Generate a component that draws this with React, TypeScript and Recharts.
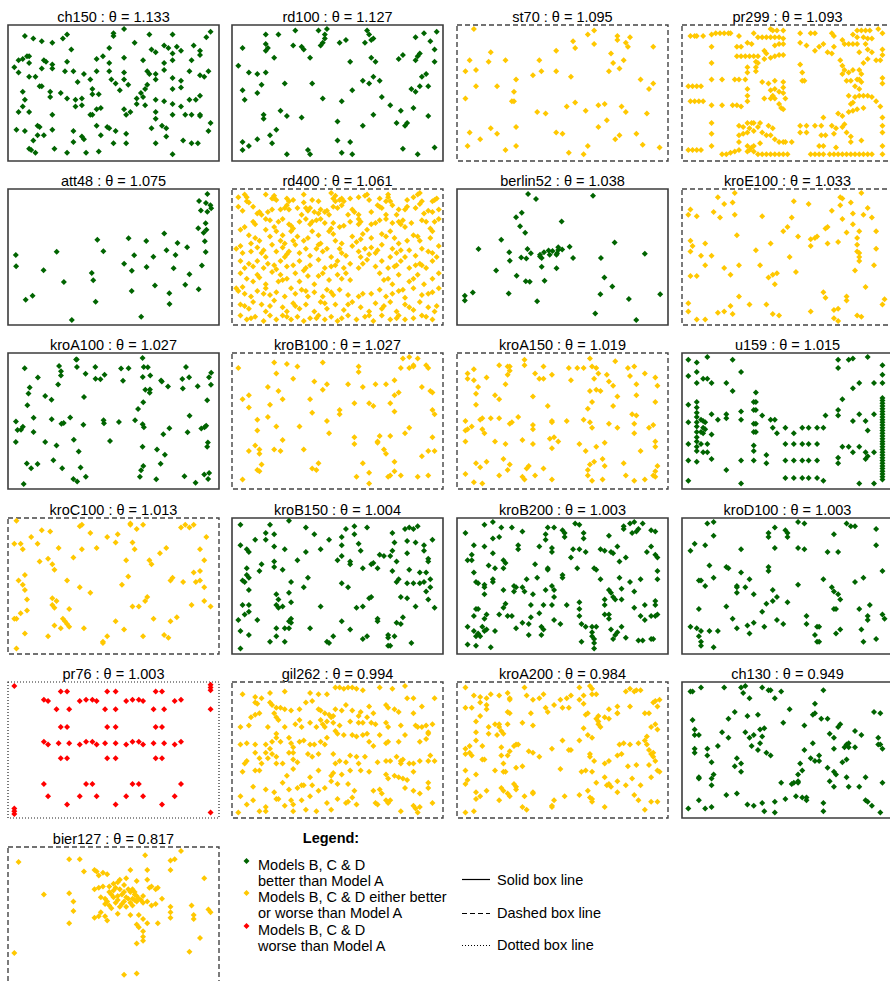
import React from "react";
import { ScatterChart, Scatter, XAxis, YAxis, ReferenceArea } from "recharts";

// Instances in plotting order, with their theta ratio and the outcome class
const instances = [
  "ch150", "rd100", "st70", "pr299", "att48", "rd400", "berlin52", "kroE100",
  "kroA100", "kroB100", "kroA150", "u159", "kroC100", "kroB150", "kroB200", "kroD100",
  "pr76", "gil262", "kroA200", "ch130", "bier127",
];
const thetas = [
  1.133, 1.127, 1.095, 1.093, 1.075, 1.061, 1.038, 1.033,
  1.027, 1.027, 1.019, 1.015, 1.013, 1.004, 1.003, 1.003,
  1.003, 0.994, 0.984, 0.949, 0.817,
];
// B = models B, C & D better, M = mixed, W = worse than model A
const outcomes = [
  "B", "B", "M", "M", "B", "M", "B", "M",
  "B", "M", "M", "B", "M", "B", "B", "B",
  "W", "M", "M", "B", "M",
];

// these three keep their TSPLIB coordinates (y up); the rest are in 0-100 box units, y down
const tsplibCoords = ["att48", "berlin52", "kroA100"];

const att48 = `6734 1453,2233 10,5530 1424,401 841,3082 1644,7608 4458,7573 3716,7265 1268,6898 1885,1112 2049,
5468 2606,5989 2873,4706 2674,4612 2035,6347 2683,6107 669,7611 5184,7462 3590,7732 4723,5900 3561,
4483 3369,6101 1110,5199 2182,1633 2809,4307 2322,675 1006,7555 4819,7541 3981,3177 756,7352 4506,
7545 2801,3245 3305,6426 3173,4608 1198,23 2216,7248 3779,7762 4595,7392 2244,3484 2829,6271 2135,
4985 140,1916 1569,7280 4899,7509 3239,10 2676,6807 2993,5185 3258,3023 1942`;

const berlin52 = `565 575,25 185,345 750,945 685,845 655,880 660,25 230,525 1000,580 1175,650 1130,
1605 620,1220 580,1465 200,1530 5,845 680,725 370,145 665,415 635,510 875,560 365,
300 465,520 585,480 415,835 625,975 580,1215 245,1320 315,1250 400,660 180,410 250,
420 555,575 665,1150 1160,700 580,685 595,685 610,770 610,795 645,720 635,760 650,
475 960,95 260,875 920,700 500,555 815,830 485,1170 65,830 610,605 625,595 360,1340 725,1740 245`;

const kroA100 = `1380 939,2848 96,3510 1671,457 334,3888 666,984 965,2721 1482,1286 525,2716 1432,738 1325,
1251 1832,2728 1698,3815 169,3683 1533,1247 1945,123 862,1234 1946,252 1240,611 673,2576 1676,
928 1700,53 857,1807 1711,274 1420,2574 946,178 24,2678 1825,1795 962,3384 1498,3520 1079,
1256 61,1424 1728,3913 192,3085 1528,2573 1969,463 1670,3875 598,298 1513,3479 821,2542 236,
3955 1743,1323 280,3447 1830,2936 337,1621 1830,3373 1646,1393 1368,3874 1318,938 955,3022 474,
2482 1183,3854 923,376 825,2519 135,2945 1622,953 268,2628 1479,2097 981,890 1846,2139 1806,
2421 1007,2290 1810,1115 1052,2588 302,327 265,241 341,1917 687,2991 792,2573 599,19 674,
3911 1673,872 1559,2863 558,929 1766,839 620,3893 102,2178 1619,3822 899,378 1048,1178 100,
2599 901,3416 143,2961 1605,611 1384,3113 885,2597 1830,2586 1286,161 906,1429 134,742 1025,
1625 1651,1187 706,1787 1009,22 987,3640 43,3756 882,776 392,1724 1642,198 1810,3950 1558`;

const ch150 = `8 8,12 10,16 12,21 13,26 10,28 7,30 18,50 6,50 8,55 3,60 13,67 7,68 18,70 20,74 15,78 7,76 17,78 21,80 16,82 19,88 15,91 19,91 22,94 9,96 5,
5 26,7 25,9 23,10 23,10 28,3 31,5 35,10 38,13 38,17 26,18 27,21 29,21 32,16 32,28 27,27 34,31 34,36 36,33 42,42 25,45 23,48 17,48 28,48 34,55 24,55 35,55 40,49 40,51 43,39 40,42 34,64 26,66 34,67 36,74 28,74 33,78 26,87 26,86 34,78 39,82 41,95 34,91 37,93 38,70 36,70 40,66 44,65 47,
15 45,16 45,7 49,20 49,20 53,25 50,28 54,32 55,35 54,32 60,35 59,40 47,40 51,43 51,53 48,57 44,63 50,61 54,64 53,65 59,70 55,78 47,82 46,78 58,82 60,74 56,86 55,89 55,91 52,8 55,7 60,5 64,10 64,21 66,39 66,40 66,42 62,44 61,55 62,56 66,58 64,61 58,70 64,70 69,78 66,84 66,87 66,91 66,91 67,96 72,95 78,
4 77,8 78,14 74,15 75,14 81,17 81,21 77,12 85,10 91,11 92,13 94,22 91,31 78,35 82,36 84,31 86,28 94,37 94,43 93,42 74,44 81,47 75,48 76,51 78,50 87,56 80,56 87,68 76,73 74,75 76,75 82,70 87,78 95,83 85,87 87,90 87`;

const rd100 = `16 7,22 7,30 4,41 4,45 3,44 7,44 10,43 13,42 15,64 4,65 7,67 10,66 11,51 13,54 11,63 13,87 9,91 6,97 5,94 12,
5 17,16 14,17 17,16 19,29 15,33 16,34 18,37 24,20 24,96 18,56 27,66 24,68 27,79 25,81 22,87 26,88 23,89 21,96 27,3 30,
8 35,12 36,16 35,25 43,38 43,14 44,5 48,12 50,6 55,62 41,65 43,67 38,70 41,90 38,92 36,85 47,87 49,89 45,93 45,57 48,
43 54,52 56,71 53,75 59,80 63,86 61,93 67,23 63,26 67,15 66,15 69,33 68,67 66,50 71,62 74,78 72,83 72,82 74,21 77,18 81,
12 84,5 86,8 89,5 92,19 87,50 85,56 86,26 95,36 92,37 95,52 94,57 95,81 91,88 95,96 90`;

const st70 = `8 3,16 20,6 26,4 34,9 33,15 27,23 26,9 45,19 45,28 40,27 49,4 54,26 56,27 56,36 37,39 26,40 34,47 19,47 34,54 38,
55 12,56 17,62 7,65 4,65 14,76 8,76 11,80 13,81 16,82 9,73 21,74 28,77 32,79 26,72 34,93 16,87 40,91 47,93 43,38 64,
42 65,52 60,56 57,61 63,67 59,70 58,78 60,80 64,90 65,71 70,67 75,6 79,16 76,19 80,28 75,47 79,50 80,11 84,5 89,23 92,
28 89,53 94,60 95,62 89,77 81,75 84,85 80,88 88,96 90`;

const pr299 = `4 8,6 8,7 8,10 8,14 7,16 6,18 6,20 6,22 6,23 6,27 8,34 6,36 9,38 9,40 9,42 9,44 9,46 9,42 3,43 4,45 4,48 4,48 10,56 6,61 6,63 6,71 6,72 8,76 11,83 4,85 4,87 4,89 4,93 3,95 6,81 7,83 9,86 9,88 10,90 10,
14 16,26 16,28 16,31 13,33 14,44 15,46 14,48 14,39 19,40 21,56 13,59 15,63 19,65 16,67 14,69 20,71 21,72 16,77 14,79 14,81 14,83 14,87 14,88 18,84 20,90 20,95 18,
26 23,28 23,30 23,32 23,34 23,36 23,39 25,42 24,44 23,46 22,48 22,35 27,36 28,35 31,35 34,31 31,31 35,56 29,57 35,75 26,76 30,77 33,76 36,79 35,81 33,84 33,85 36,86 28,88 25,92 26,94 26,95 22,14 28,
14 40,19 40,25 40,27 40,30 40,31 47,57 41,58 41,78 41,80 41,83 40,84 40,85 42,95 39,95 43,82 45,84 47,
3 45,5 45,7 45,9 45,38 42,41 43,44 41,48 42,48 46,42 48,44 47,46 49,48 50,
4 56,6 56,8 56,10 56,31 52,31 56,14 59,19 59,24 59,26 59,28 60,39 54,42 54,43 52,44 54,46 58,47 61,48 62,49 54,
79 52,82 53,84 52,86 52,88 52,90 53,92 56,94 60,80 58,81 57,74 65,76 67,79 64,81 63,83 62,86 61,95 68,14 72,
27 74,29 75,31 72,33 72,34 72,37 72,32 76,34 78,36 75,41 74,43 76,56 74,59 74,63 74,67 68,66 74,71 74,73 76,76 75,77 73,95 74,95 79,14 80,
27 81,29 80,31 79,38 79,40 81,42 81,44 84,56 79,59 79,66 81,68 81,72 80,78 79,80 82,80 86,85 85,
14 89,27 86,31 89,33 90,34 89,37 87,46 86,48 86,49 86,52 86,65 89,67 89,73 90,95 89,
3 92,5 92,7 92,9 92,19 95,21 95,23 94,25 93,27 92,31 93,32 92,34 93,
36 95,38 95,40 95,42 95,44 95,46 95,48 95,50 95,61 95,63 95,65 95,67 95,70 95,72 95,74 95,76 95,78 95,80 95,82 95,84 95,86 95,88 95,90 95,95 95`;

const rd400 = `3 6,6 4,7 9,8 10,16 4,19 7,20 7,21 8,26 7,29 8,34 10,34 4,38 8,41 9,47 3,48 7,49 5,51 8,53 9,56 7,60 6,64 4,65 8,70 7,74 4,73 9,75 9,83 8,86 6,89 3,90 9,95 9,97 7,
3 13,10 13,12 18,14 19,17 17,19 15,23 15,26 12,27 15,31 14,35 14,33 19,36 16,39 17,41 18,42 15,45 16,46 19,48 13,50 14,52 12,55 19,58 17,60 19,66 17,70 13,71 14,73 19,76 12,78 19,79 15,83 13,87 14,89 11,91 18,95 17,98 15,
4 30,10 24,11 26,16 22,16 30,20 28,22 24,24 22,27 26,29 29,32 24,35 22,37 26,40 23,42 22,44 25,47 29,48 25,51 28,56 24,60 22,60 26,61 24,64 30,68 25,70 23,73 22,76 25,79 24,81 23,82 28,85 25,90 23,92 24,94 29,98 22,
8 34,9 40,13 38,18 35,21 31,23 38,25 40,28 31,29 38,31 35,34 38,38 31,41 34,42 40,46 31,49 38,52 40,57 35,59 39,62 33,66 36,71 33,75 31,77 36,79 40,83 38,86 34,89 38,94 36,95 31,
2 44,5 47,9 46,12 43,15 45,16 50,19 41,21 46,24 43,25 50,27 46,30 41,32 47,35 44,37 49,41 41,43 46,45 44,47 50,51 44,54 49,57 42,60 46,61 50,63 44,66 43,68 47,69 45,71 41,75 50,76 44,78 47,82 50,84 45,87 49,90 44,93 46,97 50,98 42,
4 53,6 58,10 57,12 53,15 58,17 55,21 59,23 53,26 57,29 56,32 53,34 60,37 56,41 52,44 58,47 57,50 53,53 58,56 55,60 58,64 52,68 57,71 53,74 58,77 57,80 53,84 58,87 56,89 55,92 58,95 53,
4 62,7 66,10 68,13 65,16 70,19 61,22 68,23 63,26 66,30 62,32 68,36 64,39 70,43 62,46 67,50 63,54 62,56 67,70 62,74 66,76 70,79 63,84 68,88 63,91 70,95 66,98 62,
2 73,5 72,6 77,9 79,12 75,16 73,18 78,21 76,25 79,28 73,30 77,33 74,36 79,39 76,43 79,45 74,48 78,51 74,55 78,60 79,66 77,70 74,73 79,76 77,79 75,82 80,86 73,90 78,95 76,98 73,
4 85,8 88,10 83,14 85,16 90,20 82,24 87,26 90,29 84,32 88,35 85,39 90,42 83,45 88,49 85,53 89,57 83,61 87,65 90,68 84,71 88,75 83,78 90,82 85,86 89,89 83,93 87,96 90,
4 93,7 96,11 94,15 97,18 93,21 96,24 93,28 96,31 94,34 97,37 95,41 93,44 96,47 94,50 97,55 93,59 96,63 94,67 97,71 93,75 96,79 93,82 96,86 95,90 93,95 96,
7 6,20 5,27 9,49 9,52 7,63 5,74 6,88 4,96 8,5 16,13 17,25 14,37 14,44 17,57 15,69 12,82 15,93 16,6 28,18 23,28 27,38 24,53 27,66 26,80 26,96 24,
11 36,24 34,36 36,48 33,61 37,73 35,88 35,4 42,14 47,26 48,40 44,52 47,65 48,80 45,95 47,8 55,20 56,35 58,49 56,62 55,78 56,90 56,12 63,24 67,
41 64,52 66,72 67,86 66,3 75,15 77,35 75,47 76,62 77,81 74,93 77,6 86,18 86,30 86,44 84,55 85,72 86,84 87,97 86,9 95,26 94,40 95,52 95,65 93,78 95,92 94`;

const kroE100 = `4 15,3 19,7 20,17 6,20 11,24 10,25 3,15 17,18 21,25 19,38 20,53 9,60 11,52 21,50 28,48 31,55 35,61 37,63 36,64 35,
61 42,68 29,69 28,71 16,75 6,76 7,75 12,76 22,80 10,81 18,85 3,88 14,86 19,90 21,81 26,84 31,78 32,83 36,74 39,69 40,
83 41,83 46,84 47,84 50,84 53,92 31,92 44,91 56,82 60,87 72,96 81,95 85,26 34,42 40,35 45,37 56,27 56,20 58,23 63,41 65,
43 63,45 62,44 70,51 50,54 61,4 38,5 42,11 40,4 46,9 49,14 49,11 56,4 64,7 64,27 79,32 85,40 85,3 84,3 90,7 96,
11 96,17 91,20 90,23 86,24 92,43 92,46 93,61 90,67 76,68 80,72 89,74 88,72 95,74 97,78 79,78 82,83 93,85 94`;

const kroB100 = `3 11,20 7,26 8,31 10,43 7,60 10,60 14,81 4,84 3,88 4,86 9,86 10,84 11,80 11,92 9,93 11,21 15,29 19,39 21,45 23,
43 27,55 23,62 25,68 23,73 23,77 20,79 29,77 31,90 25,94 28,95 29,8 31,5 34,8 40,17 25,22 28,24 34,18 38,37 34,38 44,
51 42,51 45,58 37,65 37,67 39,75 37,77 43,95 42,96 45,12 49,17 47,12 57,21 54,32 54,45 50,46 59,58 62,58 67,70 61,69 65,
69 66,75 61,82 59,84 55,95 62,11 68,13 71,13 74,8 72,20 71,23 72,24 64,34 71,41 81,38 85,40 86,14 82,12 86,13 87,5 93,
62 81,65 88,59 91,65 96,72 71,73 74,77 80,77 87,74 91,75 90,80 90,88 91,93 90,90 76,93 72,96 72`;

const kroA150 = `5 15,5 19,8 12,8 20,10 25,9 30,9 38,14 18,20 9,24 10,25 10,25 13,24 16,23 23,18 31,20 34,32 5,32 9,37 15,41 10,
39 19,41 19,45 16,36 32,43 39,53 11,54 20,57 11,60 11,63 4,64 10,66 11,67 15,65 19,63 28,66 27,68 28,64 36,62 41,71 16,
72 21,74 24,75 6,76 32,74 39,81 11,84 10,82 17,89 15,85 23,85 31,94 18,95 24,94 36,4 50,4 57,5 56,7 54,11 49,12 48,
12 56,13 59,16 48,20 48,25 52,26 51,29 47,36 53,36 56,45 50,45 51,52 50,60 49,63 51,64 55,72 52,76 55,83 45,85 46,84 52,
84 59,91 55,93 53,94 65,94 69,4 65,18 65,23 67,31 64,36 67,44 63,46 62,48 65,45 70,58 67,61 72,66 69,70 66,87 72,9 81,
11 84,14 80,22 78,25 82,24 86,34 83,33 85,32 93,37 90,31 91,41 85,45 93,4 89,8 95,12 96,20 90,62 86,63 82,65 80,69 78,
70 83,79 81,62 90,64 94,69 93,80 90,84 94,89 93,93 90,94 87,95 83,94 91`;

const u159 = `3 5,7 7,12 3,24 5,28 14,74 5,74 11,79 5,81 4,88 3,95 9,3 17,7 14,7 22,10 19,12 19,14 22,21 22,24 28,35 29,
81 26,84 22,91 22,95 16,95 22,76 34,7 36,7 40,7 44,7 47,7 51,7 54,7 58,7 62,7 65,7 69,7 72,7 80,3 38,3 51,
3 67,3 79,3 94,9 49,10 50,11 51,10 55,11 56,9 58,10 59,9 67,12 67,10 73,12 73,14 45,14 60,14 78,17 49,21 45,21 48,
21 86,28 43,28 49,28 79,28 96,34 36,35 36,34 42,35 42,34 52,35 52,34 58,35 58,34 68,34 72,34 79,38 46,40 75,40 81,42 49,
44 49,43 55,45 59,49 55,53 59,57 55,60 55,64 55,67 55,49 67,53 67,57 67,60 67,64 67,49 79,53 79,57 79,60 79,64 79,49 92,
53 92,57 92,60 92,64 92,67 94,68 46,74 42,74 46,74 77,74 81,76 69,79 69,81 73,84 69,81 50,84 45,87 50,88 57,91 45,87 73,
88 76,87 78,91 73,84 96,91 96,95 33,95 35,95 37,95 39,95 41,95 43,95 45,95 47,95 49,95 51,95 53,95 55,95 57,95 59,95 61,
95 63,95 65,95 67,95 69,95 71,95 73,95 75,95 77,95 79,95 81,95 83,95 85,95 87,95 89,95 91,95 93`;

const kroC100 = `4 2,3 19,6 19,7 23,11 14,14 19,16 9,20 10,24 22,34 6,35 5,39 11,42 22,35 23,31 29,47 14,52 12,51 18,58 4,58 5,
61 8,64 5,59 18,60 23,72 26,75 22,82 7,84 5,86 7,88 5,94 14,91 23,93 31,15 32,19 30,21 34,22 38,56 31,67 31,68 34,
5 46,8 42,7 49,8 53,9 60,28 46,34 51,39 55,54 49,57 43,77 46,78 44,83 47,88 40,91 39,89 47,91 46,93 51,21 59,21 64,
23 61,22 66,29 67,59 65,62 65,65 61,66 58,87 64,93 61,96 65,3 74,4 74,6 70,9 68,22 79,25 81,26 74,27 76,28 78,29 80,
19 87,8 85,4 96,36 81,45 91,45 92,47 87,51 76,55 82,64 87,69 74,77 76,74 86,76 88,80 73`;

const kroB150 = `4 5,18 5,27 2,16 11,20 12,11 16,16 16,20 21,25 23,35 7,39 12,35 25,46 16,52 14,54 8,58 6,64 7,58 12,52 20,60 19,
61 24,76 11,77 18,76 24,82 8,84 7,86 8,88 6,83 17,87 18,91 20,95 16,83 26,91 24,4 20,7 23,8 25,14 34,13 39,7 37,
7 42,5 46,6 47,8 44,8 53,20 32,20 36,24 38,31 31,42 23,50 31,52 28,56 32,56 34,62 37,66 34,67 33,69 37,70 27,72 28,
75 28,78 32,76 39,84 38,93 30,93 32,89 40,92 40,94 45,91 47,79 45,78 47,83 48,86 48,89 48,94 51,92 54,93 60,96 66,80 58,
83 59,87 65,28 47,36 44,34 51,52 48,55 51,27 55,28 62,21 56,22 60,21 64,22 66,24 65,5 64,8 64,8 69,6 71,3 75,4 83,
4 96,8 86,12 75,18 91,21 87,25 91,21 81,25 81,27 81,27 76,28 74,28 77,42 65,37 81,45 91,46 92,48 87,52 76,56 82,59 66,
62 65,65 59,66 58,62 89,64 87,69 74,69 76,74 86,74 88,77 87,74 94,75 94,78 77,80 78,81 73,85 92`;

const kroB200 = `4 11,13 5,17 3,21 7,26 7,31 10,17 15,20 14,8 20,13 21,7 27,5 31,7 31,8 40,15 35,18 37,22 31,23 33,22 37,17 26,
29 20,29 23,37 34,39 21,42 16,42 12,43 7,46 7,45 22,45 25,50 9,51 11,51 14,56 4,58 5,60 11,60 15,55 23,58 23,61 25,
54 29,68 23,70 24,72 13,76 21,73 25,74 26,77 32,80 29,79 6,79 8,82 4,84 3,85 10,83 11,86 8,88 4,92 9,94 10,90 25,
92 21,94 27,95 29,9 47,10 48,13 49,13 51,17 45,17 47,13 56,22 53,27 50,28 51,27 54,31 51,32 54,33 45,36 56,38 44,42 53,
45 50,46 53,46 58,50 42,50 44,43 38,43 37,57 37,65 37,66 38,68 45,77 44,78 52,82 47,87 45,95 39,95 45,72 53,73 55,74 58,
75 60,70 60,70 64,78 60,84 54,94 61,94 64,94 72,95 71,92 72,89 64,84 66,87 72,89 75,70 71,72 71,72 74,58 62,58 67,58 72,
52 64,49 78,46 75,45 64,41 64,39 70,35 64,35 73,31 77,34 78,28 81,34 86,40 80,41 82,40 86,23 63,22 66,20 71,24 72,26 72,
9 67,10 67,8 72,14 71,13 74,5 80,8 83,10 85,12 80,13 83,14 82,11 87,9 87,18 83,5 93,9 94,16 95,59 78,61 80,64 80,
66 80,64 84,64 87,65 89,65 92,65 96,59 91,73 82,75 86,76 84,78 80,74 89,80 88,86 90,88 90,92 89,93 89`;

const kroD100 = `12 4,15 3,15 13,4 24,6 19,11 20,28 23,41 14,41 11,44 7,49 9,50 11,50 14,44 22,55 3,58 4,55 22,58 23,72 12,69 25,
74 25,78 4,80 6,82 6,92 8,92 20,13 35,21 36,22 37,15 44,11 50,8 46,9 46,41 36,41 39,28 40,32 45,26 50,26 51,26 55,
30 51,34 56,43 53,45 58,43 61,40 63,38 69,55 49,67 45,71 51,72 54,74 56,75 60,72 67,73 67,82 47,86 44,95 39,84 67,89 64,
88 72,88 75,95 71,96 74,50 62,59 72,59 78,21 65,8 67,24 74,26 81,31 79,34 77,32 85,39 80,45 75,48 78,4 80,7 81,9 83,
13 83,17 83,8 87,9 91,15 95,9 94,64 80,65 80,63 86,64 91,65 91,75 82,73 85,85 82,86 91,92 89`;

const pr76 = `3 3,96 2,96 4,96 6,96 20,3 93,3 95,3 97,96 96,
25 7,28 7,47 7,51 7,70 7,73 7,
17 13,19 14,34 14,37 13,40 13,42 14,56 14,59 13,62 13,64 14,79 14,82 13,
23 20,29 20,46 20,51 20,69 20,74 20,
25 33,28 33,47 33,51 33,70 33,73 33,
17 44,19 46,24 45,29 45,34 46,37 44,40 44,42 46,46 45,51 45,56 46,59 44,62 44,64 46,69 45,74 45,79 46,82 44,
25 56,28 56,47 56,51 56,70 56,73 56,
17 75,37 75,40 75,59 75,62 75,82 75,
19 84,34 84,42 84,56 84,64 84,79 84,
28 90,51 90,73 90`;

const gil262 = `5 9,11 11,14 12,18 8,25 7,37 8,41 9,45 9,49 4,51 4,53 5,55 4,57 4,59 5,62 6,70 4,76 5,82 3,83 12,86 12,96 12,
11 15,12 16,18 15,19 17,21 19,23 19,25 20,28 21,32 20,35 15,38 14,41 20,42 21,44 23,46 24,48 25,49 20,52 21,54 17,57 21,60 25,61 22,65 18,67 23,73 17,74 19,77 20,79 22,86 23,90 18,
9 26,11 24,13 23,17 33,20 23,21 26,22 28,25 33,30 31,32 28,33 33,37 30,40 33,42 28,43 31,44 33,45 29,47 26,48 30,51 32,56 29,60 30,62 30,64 26,66 30,68 31,73 30,74 33,80 32,87 32,88 33,90 33,92 32,93 37,95 31,4 33,8 32,
7 45,4 46,11 46,16 46,18 49,19 44,21 38,21 41,23 44,27 41,28 45,29 48,32 44,34 43,37 46,39 46,42 44,44 46,45 41,49 36,50 38,53 39,57 39,59 40,62 39,64 38,65 44,67 47,70 39,73 45,74 44,79 44,82 39,89 44,92 42,93 38,
6 60,7 58,11 52,13 56,14 60,16 52,17 56,19 53,21 55,21 60,24 60,27 52,29 52,29 57,31 59,36 53,38 55,41 53,48 53,49 60,51 58,54 59,56 54,59 55,60 60,63 55,69 59,73 58,75 58,78 55,80 58,80 60,81 57,84 60,86 60,89 58,93 58,94 54,96 58,
5 66,11 65,13 65,26 69,29 64,37 70,41 65,47 69,48 67,52 68,56 65,61 65,65 66,73 68,74 71,77 69,79 70,81 71,83 72,86 66,93 74,47 73,
10 77,16 79,20 81,24 74,27 79,31 78,33 76,34 76,38 76,41 80,44 78,50 75,55 75,58 80,67 80,70 79,71 82,82 78,86 80,89 82,93 78,4 84,
7 90,10 87,16 92,21 86,22 86,25 91,28 87,29 90,33 87,37 84,40 95,45 89,50 86,54 89,55 88,57 85,59 90,68 89,69 90,73 87,74 89,75 87,86 91,87 93,89 92,95 89,3 96,13 95,16 95,29 95,35 94,47 94,80 95,88 96`;

const kroA200 = `4 4,8 10,11 15,14 12,16 9,20 10,24 8,25 12,25 13,32 4,33 10,36 13,39 12,41 9,49 13,52 12,54 10,58 4,58 13,60 10,63 3,64 5,64 9,66 9,80 7,82 5,84 7,85 6,87 6,94 14,96 13,11 11,
4 19,7 19,11 25,14 20,14 17,24 22,25 23,35 23,42 19,43 22,46 17,50 19,53 19,60 16,61 24,62 23,67 25,66 27,72 20,76 18,76 23,82 18,89 23,91 23,93 15,95 18,9 29,15 33,18 31,20 31,20 33,21 36,31 30,36 32,
9 37,9 43,6 47,4 49,12 47,15 38,19 39,21 48,22 38,24 31,25 51,27 47,28 46,29 46,45 49,50 43,53 50,54 50,58 43,60 34,62 39,64 41,67 31,67 29,68 33,70 26,72 27,76 23,77 46,79 45,82 46,86 45,89 43,90 46,90 40,92 33,94 31,95 35,
4 53,6 52,7 54,12 57,13 57,21 54,24 54,34 51,36 52,39 55,49 64,63 53,63 55,65 58,59 66,61 65,64 66,70 60,76 54,78 53,72 58,81 62,85 61,91 50,92 53,93 52,93 55,94 58,91 61,95 65,96 66,4 65,9 68,18 65,22 60,22 66,23 66,28 63,31 62,
5 72,4 75,9 81,9 86,11 84,14 80,20 87,21 78,22 80,24 82,25 84,27 75,28 77,28 79,32 84,36 82,36 81,31 92,33 94,45 92,45 91,46 87,51 84,58 83,62 80,63 85,64 88,64 86,66 74,70 70,71 76,72 75,76 73,73 77,76 81,80 76,84 83,89 94,92 88,95 88,70 92,4 96,8 95,83 71,87 76,92 70,86 87`;

const ch130 = `4 7,5 7,9 4,20 4,28 4,30 3,29 8,32 12,38 4,41 6,42 6,44 12,47 7,67 6,63 16,51 20,91 22,94 23,5 28,6 35,
6 39,8 39,6 49,6 52,12 49,12 54,14 59,17 47,22 27,25 22,31 25,36 24,19 37,22 41,30 37,32 41,34 39,37 35,38 40,39 34,
33 47,36 50,37 45,40 52,42 54,26 56,25 62,28 60,28 66,48 30,58 32,62 24,63 23,66 27,69 27,74 33,75 31,70 38,72 41,82 36,
85 39,62 45,72 49,77 48,78 46,79 45,79 48,82 48,93 41,93 46,94 46,95 49,58 50,61 56,63 58,65 58,65 54,56 60,57 65,55 68,
53 74,55 74,55 73,47 74,52 75,76 59,78 57,69 63,72 66,73 68,70 73,72 77,78 70,79 77,84 77,87 70,95 74,8 70,8 71,14 71,
15 68,14 76,21 83,26 82,8 87,3 93,11 93,14 92,31 90,34 91,38 89,39 95,44 96,44 88,49 86,54 84,57 85,59 87,59 85,67 89,
67 95,87 87,88 88,90 91,94 96`;

const bier127 = `5 11,29 9,34 9,65 6,82 3,79 9,77 10,77 17,93 23,36 18,41 17,42 18,43 21,45 19,47 20,58 17,66 17,53 24,52 26,56 23,
61 25,66 24,68 29,70 31,67 30,71 30,41 31,43 30,45 29,48 29,50 27,51 30,50 32,53 31,55 33,57 31,58 33,60 35,61 36,62 38,
64 36,61 40,59 38,56 37,52 36,50 37,46 38,44 37,46 42,48 43,51 41,53 44,56 44,59 43,64 41,66 40,68 43,70 42,73 38,29 34,
17 35,31 40,31 47,43 51,46 51,47 54,41 52,52 49,58 50,62 50,64 53,61 57,62 59,66 56,71 56,77 44,77 48,77 52,87 43,88 50,
88 53,95 46,96 48,64 62,64 66,64 69,61 71,29 56,91 67,86 77,3 78,55 94,61 93,44 48,49 35,55 40,59 31,54 35,57 38,60 33,
63 39,48 33,47 40,52 39,54 42,58 41,60 39,49 45,55 28`;

const pointSets: Record<string, string> = {
  ch150, rd100, st70, pr299, att48, rd400, berlin52, kroE100, kroA100, kroB100, kroA150,
  u159, kroC100, kroB150, kroB200, kroD100, pr76, gil262, kroA200, ch130, bier127,
};

type Pt = { x: number; y: number };

const parsePoints = (s: string): Pt[] =>
  s
    .split(",")
    .map((p) => p.trim())
    .filter((p) => p.length > 0)
    .map((p) => {
      const [x, y] = p.split(/\s+/).map(Number);
      return { x, y };
    });

// 4% extension on each side, like base graphics
const paddedDomain = (vals: number[]): [number, number] => {
  const lo = Math.min(...vals);
  const hi = Math.max(...vals);
  const pad = (hi - lo) * 0.04;
  return [lo - pad, hi + pad];
};

const outcomeStyle: Record<string, { color: string; dash?: string; width: number; stroke: string }> = {
  B: { color: "#006400", width: 1.6, stroke: "#3c3c3c" },
  M: { color: "#FFC800", dash: "5 3", width: 1.4, stroke: "#444444" },
  W: { color: "#FF0000", dash: "1 2", width: 1.2, stroke: "#222222" },
};

const FONT = "'Liberation Sans', Arial, Helvetica, sans-serif";
const COL_X = [8, 232, 457, 682];
const ROW_Y = [25, 189, 353, 518, 682, 847];
const BOX_W = 211;
const BOX_H = 136;

const Diamond = (props: any) => {
  const { cx, cy, fill } = props;
  const r = 3;
  return (
    <path
      d={`M${cx},${cy - r}L${cx + r},${cy}L${cx},${cy + r}L${cx - r},${cy}Z`}
      fill={fill}
    />
  );
};

const Panel = ({ name, theta, outcome, left, top }: {
  name: string; theta: number; outcome: string; left: number; top: number;
}) => {
  const data = parsePoints(pointSets[name]);
  const native = tsplibCoords.includes(name);
  const xDom: [number, number] = native ? paddedDomain(data.map((d) => d.x)) : [0, 100];
  const yDom: [number, number] = native ? paddedDomain(data.map((d) => d.y)) : [0, 100];
  const st = outcomeStyle[outcome];
  return (
    <>
      <div
        style={{
          position: "absolute",
          left,
          top: top - 16,
          width: BOX_W,
          textAlign: "center",
          fontFamily: FONT,
          fontSize: 14.5,
          lineHeight: "16px",
          color: "#000",
          whiteSpace: "nowrap",
        }}
      >
        {`${name} : θ = ${theta.toFixed(3)}`}
      </div>
      <div style={{ position: "absolute", left: left - 1, top: top - 1 }}>
        <ScatterChart
          width={BOX_W + 2}
          height={BOX_H + 2}
          margin={{ top: 1, right: 1, bottom: 1, left: 1 }}
        >
          <XAxis type="number" dataKey="x" domain={xDom} hide allowDataOverflow />
          <YAxis type="number" dataKey="y" domain={yDom} hide reversed={!native} allowDataOverflow />
          <Scatter data={data} fill={st.color} shape={Diamond} isAnimationActive={false} />
          <ReferenceArea
            x1={xDom[0]}
            x2={xDom[1]}
            y1={yDom[0]}
            y2={yDom[1]}
            fill="none"
            fillOpacity={0}
            stroke={st.stroke}
            strokeWidth={st.width}
            strokeDasharray={st.dash}
          />
        </ScatterChart>
      </div>
    </>
  );
};

const LegendBlock = () => {
  const text = { fontFamily: FONT, fontSize: 14.5, fill: "#000" } as const;
  const marker = (cx: number, cy: number, fill: string) => (
    <path d={`M${cx},${cy - 3}L${cx + 3},${cy}L${cx},${cy + 3}L${cx - 3},${cy}Z`} fill={fill} />
  );
  return (
    <svg
      width={890}
      height={981}
      style={{ position: "absolute", left: 0, top: 0, pointerEvents: "none" }}
    >
      <text x={331} y={843} textAnchor="middle" {...text} fontWeight="bold">Legend:</text>
      {marker(246.5, 861, outcomeStyle.B.color)}
      <text x={258} y={869.5} {...text}>Models B, C &amp; D</text>
      <text x={258} y={885.5} {...text}>better than Model A</text>
      {marker(246.5, 893, outcomeStyle.M.color)}
      <text x={258} y={902} {...text}>Models B, C &amp; D either better</text>
      <text x={258} y={918} {...text}>or worse than Model A</text>
      {marker(246.5, 926, outcomeStyle.W.color)}
      <text x={258} y={935} {...text}>Models B, C &amp; D</text>
      <text x={258} y={951} {...text}>worse than Model A</text>

      <line x1={462} x2={490} y1={879.5} y2={879.5} stroke="#000" strokeWidth={1.2} />
      <text x={497} y={885} {...text}>Solid box line</text>
      <line x1={462} x2={490} y1={913.5} y2={913.5} stroke="#000" strokeWidth={1.2} strokeDasharray="5 3" />
      <text x={497} y={918} {...text}>Dashed box line</text>
      <line x1={462} x2={490} y1={945.5} y2={945.5} stroke="#000" strokeWidth={1.2} strokeDasharray="1 2" />
      <text x={497} y={950} {...text}>Dotted box line</text>
    </svg>
  );
};

export default function App() {
  return (
    <div
      style={{
        position: "absolute",
        left: 0,
        top: 0,
        width: 890,
        height: 981,
        overflow: "hidden",
        background: "#fff",
      }}
    >
      {instances.map((name, i) => (
        <Panel
          key={name}
          name={name}
          theta={thetas[i]}
          outcome={outcomes[i]}
          left={COL_X[i % 4]}
          top={ROW_Y[Math.floor(i / 4)]}
        />
      ))}
      <LegendBlock />
    </div>
  );
}
